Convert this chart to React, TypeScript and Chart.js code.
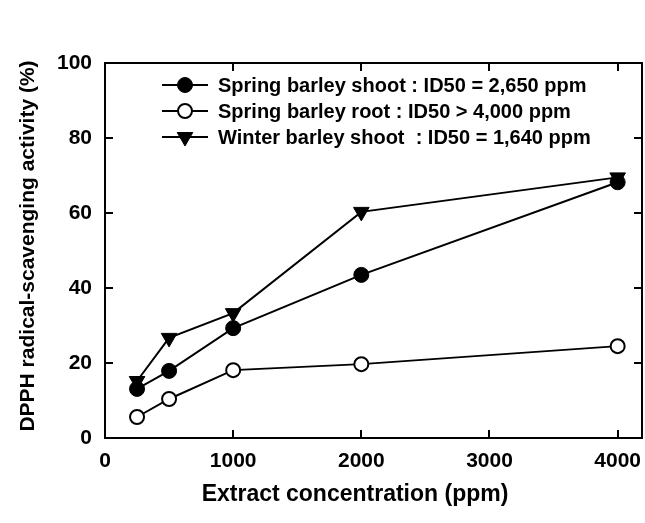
import React, { useEffect, useRef } from 'react';
import { Chart, registerables } from 'chart.js';
import { drawPoint } from 'chart.js/helpers';

Chart.register(...registerables);

const concentrations = [250, 500, 1000, 2000, 4000];
const springShoot = [13.1, 17.9, 29.3, 43.5, 68.2];
const springRoot = [5.6, 10.4, 18.1, 19.7, 24.5];
const winterShoot = [15.2, 26.7, 33.3, 60.3, 69.5];
const seriesLabels = [
  'Spring barley shoot : ID50 = 2,650 ppm',
  'Spring barley root : ID50 > 4,000 ppm',
  'Winter barley shoot  : ID50 = 1,640 ppm',
];
const xTickValues = [0, 1000, 2000, 3000, 4000];
const yTickValues = [0, 20, 40, 60, 80, 100];
const xTitle = 'Extract concentration (ppm)';
const yTitle = 'DPPH radical-scavenging activity (%)';
const xMin = 0;
const xMax = 4190;
const yMin = 0;
const yMax = 100;

const FONT = '"Liberation Sans", Arial, Helvetica, sans-serif';

const framePlugin = {
  id: 'frameAndExtras',
  afterDraw(chart: any) {
    const { ctx, chartArea } = chart;
    const { left, right, top, bottom } = chartArea;
    const xs = chart.scales.x;
    const ys = chart.scales.y;
    ctx.save();
    ctx.strokeStyle = '#000';
    ctx.lineWidth = 2;
    ctx.strokeRect(left, top, right - left, bottom - top);
    const tl = 8;
    ctx.beginPath();
    xs.ticks.forEach((t: any) => {
      if (t.value <= xMin) return;
      const px = Math.round(xs.getPixelForValue(t.value));
      ctx.moveTo(px, bottom);
      ctx.lineTo(px, bottom - tl);
      ctx.moveTo(px, top);
      ctx.lineTo(px, top + tl);
    });
    ys.ticks.forEach((t: any) => {
      if (t.value <= yMin || t.value >= yMax) return;
      const py = Math.round(ys.getPixelForValue(t.value));
      ctx.moveTo(left, py);
      ctx.lineTo(left + tl, py);
      ctx.moveTo(right, py);
      ctx.lineTo(right - tl, py);
    });
    ctx.stroke();

    // axis titles
    ctx.fillStyle = '#000';
    ctx.font = `bold 23px ${FONT}`;
    ctx.textAlign = 'center';
    ctx.textBaseline = 'middle';
    ctx.fillText(xTitle, 355, 495);
    ctx.font = `bold 21px ${FONT}`;
    ctx.save();
    ctx.translate(28, 246);
    ctx.rotate(-Math.PI / 2);
    ctx.fillText(yTitle, 0, 0);
    ctx.restore();

    // legend
    const rows = [85, 111, 137];
    chart.data.datasets.forEach((ds: any, i: number) => {
      const y = rows[i];
      ctx.beginPath();
      ctx.lineWidth = 2;
      ctx.strokeStyle = '#000';
      ctx.moveTo(162, y);
      ctx.lineTo(208, y);
      ctx.stroke();
      ctx.fillStyle = ds.pointBackgroundColor;
      ctx.strokeStyle = ds.pointBorderColor;
      ctx.lineWidth = ds.pointBorderWidth;
      drawPoint(ctx, {
        pointStyle: ds.pointStyle,
        rotation: ds.pointRotation || 0,
        radius: ds.pointRadius,
        borderWidth: ds.pointBorderWidth,
      }, 185, y);
      ctx.fillStyle = '#000';
      ctx.font = `bold 20px ${FONT}`;
      ctx.textAlign = 'left';
      ctx.textBaseline = 'middle';
      ctx.fillText(ds.label, 218, y + 1);
    });
    ctx.restore();
  },
};

export default function App() {
  const ref = useRef<HTMLCanvasElement>(null);
  useEffect(() => {
    document.body.style.margin = '0';
    const toPts = (vals: number[]) => vals.map((v, i) => ({ x: concentrations[i], y: v }));
    const chart = new Chart(ref.current!, {
      type: 'line',
      data: {
        datasets: [
          {
            label: seriesLabels[0],
            data: toPts(springShoot),
            borderColor: '#000',
            borderWidth: 2,
            pointStyle: 'circle',
            pointRadius: 7.5,
            pointBackgroundColor: '#000',
            pointBorderColor: '#000',
            pointBorderWidth: 1,
          },
          {
            label: seriesLabels[1],
            data: toPts(springRoot),
            borderColor: '#000',
            borderWidth: 2,
            pointStyle: 'circle',
            pointRadius: 7,
            pointBackgroundColor: '#fff',
            pointBorderColor: '#000',
            pointBorderWidth: 2,
          },
          {
            label: seriesLabels[2],
            data: toPts(winterShoot),
            borderColor: '#000',
            borderWidth: 2,
            pointStyle: 'triangle',
            pointRotation: 180,
            pointRadius: 9,
            pointBackgroundColor: '#000',
            pointBorderColor: '#000',
            pointBorderWidth: 1,
          },
        ] as any,
      },
      options: {
        animation: false,
        responsive: false,
        maintainAspectRatio: false,
        layout: { autoPadding: false, padding: { top: 63, right: 3, left: 0, bottom: 0 } },
        plugins: { legend: { display: false }, tooltip: { enabled: false } },
        scales: {
          x: {
            type: 'linear',
            min: xMin,
            max: xMax,
            grid: { display: false, drawTicks: false },
            border: { display: false },
            afterBuildTicks: (s: any) => { s.ticks = xTickValues.map((v) => ({ value: v })); },
            ticks: {
              padding: 11,
              color: '#000',
              maxRotation: 0,
              autoSkip: false,
              callback: (v: any) => String(v),
              font: { family: FONT, size: 21, weight: 'bold' },
            },
            afterFit: (s: any) => { s.height = 85; s.paddingLeft = 0; s.paddingRight = 0; },
          },
          y: {
            type: 'linear',
            min: yMin,
            max: yMax,
            grid: { display: false, drawTicks: false },
            border: { display: false },
            afterBuildTicks: (s: any) => { s.ticks = yTickValues.map((v) => ({ value: v })); },
            ticks: {
              padding: 13,
              color: '#000',
              autoSkip: false,
              callback: (v: any) => String(v),
              font: { family: FONT, size: 21, weight: 'bold' },
            },
            afterFit: (s: any) => { s.width = 105; s.paddingTop = 0; s.paddingBottom = 0; },
          },
        },
      } as any,
      plugins: [framePlugin],
    });
    return () => chart.destroy();
  }, []);
  return <canvas ref={ref} width={645} height={523} style={{ display: 'block' }} />;
}
